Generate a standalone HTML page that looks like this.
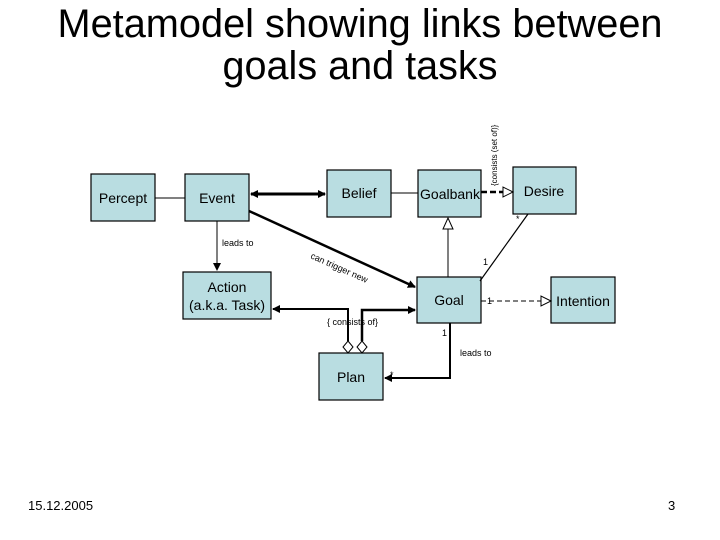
<!DOCTYPE html>
<html><head><meta charset="utf-8"><style>
html,body{margin:0;padding:0;background:#fff;}
svg{display:block;}
text{font-family:"Liberation Sans",sans-serif;}
</style></head><body>
<svg width="720" height="540" viewBox="0 0 720 540" xmlns="http://www.w3.org/2000/svg">
<defs>
<marker id="a" markerWidth="8" markerHeight="8" refX="7" refY="4" orient="auto" markerUnits="userSpaceOnUse"><path d="M0,0 L8,4 L0,8 z" fill="#000"/></marker>
<marker id="as" markerWidth="8" markerHeight="8" refX="1" refY="4" orient="auto" markerUnits="userSpaceOnUse"><path d="M8,0 L0,4 L8,8 z" fill="#000"/></marker>
</defs>
<text x="360" y="37" font-size="40" text-anchor="middle" textLength="605" lengthAdjust="spacingAndGlyphs">Metamodel showing links between</text>
<text x="360" y="79" font-size="40" text-anchor="middle" textLength="275" lengthAdjust="spacingAndGlyphs">goals and tasks</text>

<g fill="#b9dde1" stroke="#000" stroke-width="1.2">
<rect x="91" y="174" width="64" height="47"/>
<rect x="185" y="174" width="64" height="47"/>
<rect x="327" y="170" width="64" height="47"/>
<rect x="418" y="170" width="63" height="47"/>
<rect x="513" y="167" width="63" height="47"/>
<rect x="417" y="277" width="64" height="46"/>
<rect x="551" y="277" width="64" height="46"/>
<rect x="183" y="272" width="88" height="47"/>
<rect x="319" y="353" width="64" height="47"/>
</g>
<g font-size="14" text-anchor="middle">
<text x="123" y="203">Percept</text>
<text x="217" y="203">Event</text>
<text x="359" y="198">Belief</text>
<text x="450" y="199">Goalbank</text>
<text x="544" y="196">Desire</text>
<text x="449" y="305">Goal</text>
<text x="583" y="306">Intention</text>
<text x="227" y="292">Action</text>
<text x="227" y="310">(a.k.a. Task)</text>
<text x="351" y="382">Plan</text>
</g>

<g stroke="#000" fill="none">
<line x1="155" y1="198" x2="185" y2="198" stroke-width="1"/>
<line x1="251" y1="194" x2="325" y2="194" stroke-width="3" marker-end="url(#a)" marker-start="url(#as)"/>
<line x1="249" y1="211" x2="415" y2="287" stroke-width="2.5" marker-end="url(#a)"/>
<line x1="217" y1="221" x2="217" y2="270" stroke-width="1" marker-end="url(#a)"/>
<line x1="391" y1="193" x2="418" y2="193" stroke-width="1"/>
<line x1="448" y1="277" x2="448" y2="229" stroke-width="1"/>
<path d="M448,218 L443,229 L453,229 z" fill="#fff" stroke-width="1"/>
<line x1="481" y1="192" x2="503" y2="192" stroke-width="2.5" stroke-dasharray="6,3"/>
<path d="M513,192 L503,187 L503,197 z" fill="#fff" stroke-width="1"/>
<line x1="480" y1="281" x2="528" y2="214" stroke-width="1.2"/>
<line x1="481" y1="301" x2="541" y2="301" stroke-width="1" stroke-dasharray="5,3"/>
<path d="M551,301 L541,296 L541,306 z" fill="#fff" stroke-width="1"/>
<polyline points="348,341 348,309 273,309" stroke-width="2" marker-end="url(#a)"/>
<polyline points="362,341 362,310 415,310" stroke-width="2.5" marker-end="url(#a)"/>
<path d="M348,341 L353,347 L348,353 L343,347 z" fill="#fff" stroke-width="1"/>
<path d="M362,341 L367,347 L362,353 L357,347 z" fill="#fff" stroke-width="1"/>
<polyline points="450,323 450,378 385,378" stroke-width="2" marker-end="url(#a)"/>
</g>

<g font-size="9">
<text x="222" y="246">leads to</text>
<text x="460" y="356">leads to</text>
<text x="327" y="325">{ consists of}</text>
<text x="310" y="258" transform="rotate(24 310 258)">can trigger new</text>
<text x="442" y="336">1</text>
<text x="483" y="265">1</text>
<text x="487" y="304">1</text>
<text x="516" y="222">*</text>
<text x="390" y="378">*</text>
<text x="497" y="186" font-size="8" transform="rotate(-90 497 186)">{consists (set of)}</text>
</g>

<text x="28" y="510" font-size="13">15.12.2005</text>
<text x="668" y="510" font-size="13">3</text>
</svg>
</body></html>
